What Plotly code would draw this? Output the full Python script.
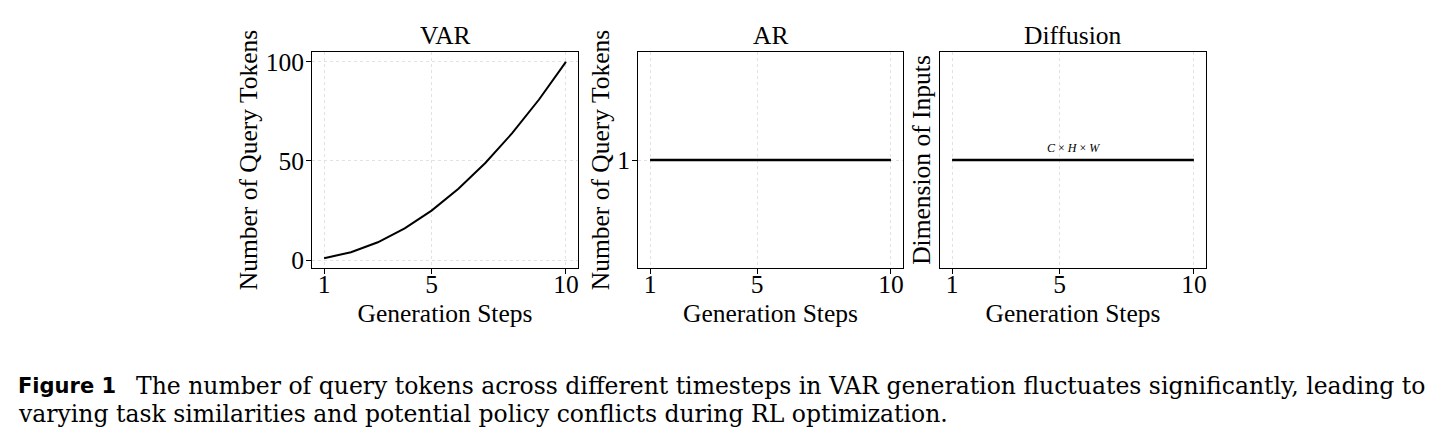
import plotly.graph_objects as go

# ---- data ----
steps = [1, 2, 3, 4, 5, 6, 7, 8, 9, 10]
var_tokens = [1, 4, 9, 16, 25, 36, 49, 64, 81, 100]
ar_tokens = [1, 1, 1, 1, 1, 1, 1, 1, 1, 1]
diffusion_dims = [1, 1, 1, 1, 1, 1, 1, 1, 1, 1]

panel_titles = ["VAR", "AR", "Diffusion"]
y_titles = ["Number of Query Tokens", "Number of Query Tokens", "Dimension of Inputs"]
x_title = "Generation Steps"
x_ticks = [1, 5, 10]
var_y_ticks = [0, 50, 100]
ar_y_ticks = [1]
diffusion_label = "<i>C</i> × <i>H</i> × <i>W</i>"

caption_head = "Figure 1"
caption_line1 = ("The number of query tokens across different timesteps in VAR generation "
                 "fluctuates significantly, leading to")
caption_line2 = "varying task similarities and potential policy conflicts during RL optimization."

# ---- layout constants ----
W, H = 1443, 446
FONT = "Liberation Serif"
FS = 25.5
GRID = "#e2e2e2"

def px_x(p):
    return p / W

def px_y(p):
    return 1 - p / H

dom_x = [[px_x(312), px_x(578)], [px_x(638), px_x(903)], [px_x(940), px_x(1206)]]
dom_y = [px_y(268), px_y(52)]

fig = go.Figure()

series = [var_tokens, ar_tokens, diffusion_dims]
widths = [2, 2.6, 2.6]
for i, ys in enumerate(series):
    suffix = "" if i == 0 else str(i + 1)
    fig.add_trace(go.Scatter(
        x=steps, y=ys, mode="lines",
        line=dict(color="black", width=widths[i]),
        xaxis="x" + suffix, yaxis="y" + suffix, showlegend=False,
        hoverinfo="skip",
    ))

common_axis = dict(
    showline=True, linecolor="black", linewidth=1, mirror=True,
    ticks="outside", ticklen=5, tickwidth=1, tickcolor="black",
    showgrid=True, gridcolor=GRID, griddash="dot", gridwidth=1,
    zeroline=False, tickfont=dict(family=FONT, size=FS, color="black"),
    automargin=False,
)

layout = dict(
    width=W, height=H,
    margin=dict(l=0, r=0, t=0, b=0),
    paper_bgcolor="white", plot_bgcolor="white",
    font=dict(family=FONT, size=FS, color="black"),
    showlegend=False,
)

y_ranges = [[-3.95, 104.95], [0, 2], [0, 2]]
y_tickvals = [var_y_ticks, ar_y_ticks, []]
for i in range(3):
    suffix = "" if i == 0 else str(i + 1)
    anchor_y = "y" + suffix
    anchor_x = "x" + suffix
    layout["xaxis" + suffix] = dict(
        common_axis, domain=dom_x[i], anchor=anchor_y,
        range=[0.55, 10.45], tickvals=x_ticks, ticklabelstandoff=-12,
        title=dict(text=x_title, font=dict(family=FONT, size=FS), standoff=4),
    )
    yax = dict(
        common_axis, domain=dom_y, anchor=anchor_x,
        range=y_ranges[i], tickvals=y_tickvals[i], ticklabelstandoff=-3,
        title=dict(text=y_titles[i], font=dict(family=FONT, size=FS), standoff=0),
    )
    if i == 2:
        yax.update(ticks="", showticklabels=False, showgrid=False)
        yax["title"]["standoff"] = 1
    layout["yaxis" + suffix] = yax

annotations = []
for i, t in enumerate(panel_titles):
    annotations.append(dict(
        text=t, x=(dom_x[i][0] + dom_x[i][1]) / 2, y=px_y(35),
        xref="paper", yref="paper", xanchor="center", yanchor="middle",
        showarrow=False, font=dict(family=FONT, size=FS, color="black"),
    ))

annotations.append(dict(
    text=diffusion_label, x=5.5, y=diffusion_dims[4], xref="x3", yref="y3",
    xanchor="center", yanchor="bottom", yshift=3, showarrow=False,
    font=dict(family=FONT, size=12, color="black"),
))

annotations.append(dict(
    text="<b>" + caption_head + "</b>", x=px_x(16), y=px_y(386),
    xref="paper", yref="paper", xanchor="left", yanchor="middle",
    showarrow=False, font=dict(family="DejaVu Sans", size=21, color="black"),
))
annotations.append(dict(
    text=caption_line1, x=px_x(134), y=px_y(386),
    xref="paper", yref="paper", xanchor="left", yanchor="middle",
    showarrow=False, font=dict(family="DejaVu Serif", size=23.5, color="black"),
))
annotations.append(dict(
    text=caption_line2, x=px_x(16), y=px_y(414),
    xref="paper", yref="paper", xanchor="left", yanchor="middle",
    showarrow=False, font=dict(family="DejaVu Serif", size=23.5, color="black"),
))

layout["annotations"] = annotations
fig.update_layout(**layout)

fig.write_html("out.html")
